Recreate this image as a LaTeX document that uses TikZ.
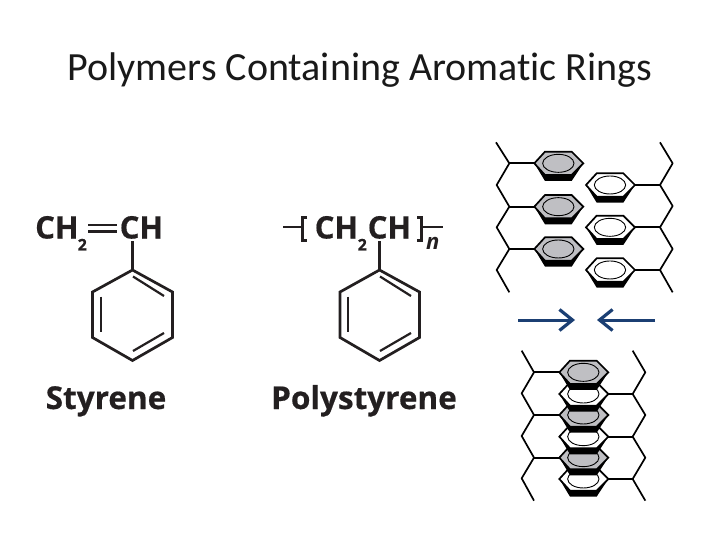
\documentclass[tikz,border=0pt]{standalone}
\usepackage{fontspec}
\setmainfont{Carlito}[Ligatures=NoCommon]
\newfontfamily\chemfont{Open Sans}[BoldFeatures={FakeBold=0.5}]
\usetikzlibrary{arrows.meta}
\definecolor{ink}{HTML}{231F20}
\definecolor{navy}{HTML}{1B3F73}
\definecolor{ringgray}{HTML}{BFBFC3}
\tikzset{
  x=1pt,y=-1pt,
  titletext/.style={font=\fontsize{40}{44}\selectfont,text=black!90,inner sep=0,anchor=base},
  chem/.style={font=\chemfont\bfseries\fontsize{31}{32}\selectfont,text=ink,inner sep=0,anchor=base west},
  chemsub/.style={font=\chemfont\bfseries\fontsize{16}{17}\selectfont,text=ink,inner sep=0,anchor=base west},
  chemlabel/.style={font=\chemfont\bfseries\fontsize{31.5}{32}\selectfont,text=ink,inner sep=0,anchor=base},
  bond/.style={draw=ink,line width=2.7pt,line join=miter},
  thinbond/.style={draw=ink,line width=2.2pt},
  chain/.style={draw=black,line width=1.7pt,line join=round},
  bigarrow/.style={draw=navy,line width=3pt,-{Straight Barb[length=13pt,width=21pt,line width=3.2pt]}},
  ringpic/.pic={
    \fill[black] (-72,0) -- (-40,53) -- (40,53) -- (75,0) -- (40,-35) -- (-40,-35) -- cycle;
    \path[draw=black,line width=1.7pt,fill=#1] (-72,0) -- (-40,-35) -- (40,-35) -- (75,0) -- (40,35) -- (-40,35) -- cycle;
    \draw[black,line width=0.9pt] (0,0) ellipse [x radius=47,y radius=27];
  },
  ringpic/.default=white
}
\begin{document}
\begin{tikzpicture}
\useasboundingbox (0,0) rectangle (720,540);
\node[titletext] (title) at (360,81) {Polymers Containing Aromatic Rings};

% Styrene
\node[chem] (sa) at (35,238.5) {CH};
\node[chemsub] (s2) at (77.5,250.5) {2};
\node[chem] (sb) at (119.5,238.5) {CH};
\coordinate (s1) at (132.5,270);
\coordinate (s3) at (172.5,292);
\coordinate (s4) at (172.5,337.5);
\coordinate (s5) at (132.5,360.5);
\coordinate (s6) at (92.5,337.5);
\coordinate (s7) at (92.5,292);
\coordinate (st) at (132.5,241);
\draw[bond] (s1) -- (s3) -- (s4) -- (s5) -- (s6) -- (s7) -- cycle;
\draw[bond] (st) -- (s1);
\draw[thinbond] (133,276.5) -- (164,296);
\draw[thinbond] (164,333) -- (133,351);
\draw[thinbond] (101,296.5) -- (101,332);
\coordinate (d1) at (88,225);\coordinate (d2) at (117,225);
\coordinate (d3) at (88,231.5);\coordinate (d4) at (117,231.5);
\draw[thinbond] (d1) -- (d2);
\draw[thinbond] (d3) -- (d4);
\node[chemlabel] (slabel) at (106,409) {Styrene};

% Polystyrene
\coordinate (pl) at (283,227);\coordinate (pl2) at (302,227);
\draw[thinbond] (pl) -- (pl2);
\draw[draw=ink,line width=2.2pt] (307,217.5) -- (302.5,217.5) -- (302.5,240.5) -- (307,240.5);
\node[chem] (pa) at (314.5,238.5) {CH};
\node[chemsub] (p2) at (357.5,250.5) {2};
\node[chem] (pb) at (367.5,238.5) {CH};
\draw[draw=ink,line width=2.2pt] (417,217.5) -- (421.5,217.5) -- (421.5,240.5) -- (417,240.5);
\coordinate (pr) at (421.5,227);\coordinate (pr2) at (443,227);
\draw[thinbond] (pr) -- (pr2);
\node[font=\chemfont\bfseries\itshape\fontsize{22}{23}\selectfont,text=ink,inner sep=0,anchor=base west] (pn) at (426,249) {n};
\coordinate (p1) at (379.5,270);
\coordinate (p3) at (419.5,292);
\coordinate (p4) at (419.5,337.5);
\coordinate (p5) at (379.5,360.5);
\coordinate (p6) at (340,337.5);
\coordinate (p7) at (340,292);
\coordinate (pt) at (379.5,241);
\draw[bond] (p1) -- (p3) -- (p4) -- (p5) -- (p6) -- (p7) -- cycle;
\draw[bond] (pt) -- (p1);
\draw[thinbond] (380,276.5) -- (411,296);
\draw[thinbond] (411,333) -- (380,351);
\draw[thinbond] (348,296.5) -- (348,332);
\node[chemlabel] (plabel) at (364,409) {Polystyrene};

% Separated chains
\begin{scope}[shift={(480,130)},x=0.3333pt,y=-0.3333pt]
\draw[chain] (48,37) -- (88,100) -- (50,165) -- (88,230) -- (50,292) -- (88,357) -- (50,420) -- (88,487);
\draw[chain] (540,37) -- (578,100) -- (540,165) -- (578,228) -- (540,292) -- (578,357) -- (540,420) -- (578,487);
\foreach \y in {100,230,357} {
  \draw[chain] (88,\y) -- (165,\y);
  \pic at (235,\y) {ringpic=ringgray};
}
\foreach \y in {165,292,420} {
  \draw[chain] (465,\y) -- (540,\y);
  \pic at (390,\y) {ringpic=white};
}
\end{scope}

% Arrows
\coordinate (a1) at (518,320);\coordinate (a2) at (575,320);
\coordinate (b1) at (655,320);\coordinate (b2) at (597,320);
\draw[bigarrow] (a1) -- (a2);
\draw[bigarrow] (b1) -- (b2);

% Stacked chains
\begin{scope}[shift={(500,300)},x=0.3333pt,y=-0.3333pt]
\draw[chain] (65,152) -- (102,217) -- (65,280) -- (102,345) -- (65,408) -- (102,473) -- (65,535) -- (102,602);
\draw[chain] (398,152) -- (436,217) -- (398,282) -- (436,345) -- (398,410) -- (436,473) -- (398,537) -- (436,602);
\foreach \y in {217,345,473} \draw[chain] (102,\y) -- (180,\y);
\foreach \y in {282,410,537} \draw[chain] (320,\y) -- (398,\y);
\pic at (250,537) {ringpic=white};
\pic at (250,473) {ringpic=ringgray};
\pic at (250,410) {ringpic=white};
\pic at (250,345) {ringpic=ringgray};
\pic at (250,282) {ringpic=white};
\pic at (250,217) {ringpic=ringgray};
\end{scope}
\end{tikzpicture}
\end{document}
